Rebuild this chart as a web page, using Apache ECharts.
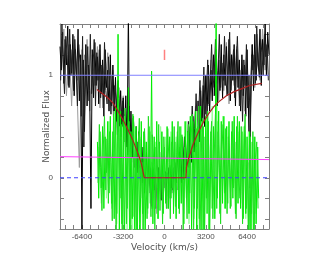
<!DOCTYPE html>
<html><head><meta charset="utf-8">
<script src="https://cdn.jsdelivr.net/npm/echarts@6/dist/echarts.min.js"></script>
<style>html,body{margin:0;padding:0;background:#fff}#c{width:327px;height:273px}</style>
</head><body><div id="c"></div>
<script>
// Axis ranges and ticks
const xRange = [-8100, 8100];
const yRange = [-0.5, 1.5];
const xTickLabels = [-6400, -3200, 0, 3200, 6400];
const xMinorTicks = [-7680,-7040,-6400,-5760,-5120,-4480,-3840,-3200,-2560,-1920,-1280,-640,0,640,1280,1920,2560,3200,3840,4480,5120,5760,6400,7040,7680];
const yTickLabels = [0, 1];
const yMinorTicks = [-0.4,-0.2,0,0.2,0.4,0.6,0.8,1,1.2,1.4];

// Black spectrum (two interleaved samplings): start velocity, step, flux values
const blackStart = -8100, blackStep = 100;
const blackFlux = [
 1.28,1.05,1.42,0.92,1.35,1.10,1.48,0.88,1.30,1.02,
 1.40,0.80,1.25,0.95,1.45,0.75,1.20,-0.50,1.15,0.45,
 1.30,0.70,1.10,0.85,-0.30,1.25,0.78,1.32,0.90,1.18,
 0.72,1.30,0.82,1.15,0.60,1.25,0.88,1.05,0.65,1.20,
 0.70,1.10,0.62,0.98,0.55,0.95,0.45,0.85,0.50,0.78,
 0.35,0.80,0.30,1.60,0.25,0.65,0.20,0.55,0.10,0.50,
 0.05,0.45,0.10,0.38,-0.05,0.30,0.00,0.25,-0.10,0.20,
 -0.15,0.15,-0.20,0.10,-0.25,0.12,-0.10,0.05,-0.20,0.08,
 -0.15,0.10,-0.22,0.05,-0.18,0.12,-0.10,0.08,-0.15,0.15,
 -0.05,0.20,-0.10,0.25,0.00,0.30,-0.02,0.35,0.05,0.45,
 0.10,0.50,0.15,0.60,0.25,0.55,0.30,0.75,0.35,0.85,
 0.45,0.90,0.50,1.00,0.60,1.10,0.65,1.05,0.75,1.20,
 0.80,1.25,0.70,1.15,0.85,1.30,0.78,1.20,0.90,1.28,
 0.82,1.35,0.75,1.20,0.95,1.30,0.70,1.25,0.88,1.15,
 0.65,1.20,0.80,1.10,0.60,1.25,0.75,-0.10,0.95,1.30,
 0.85,1.40,0.95,1.25,1.05,1.45,0.90,1.35,1.10,1.50,
 1.00,1.42,1.20
];
const black2Start = -8050, black2Step = 100;
const black2Flux = [
 0.95,1.50,1.10,0.82,1.38,1.20,0.90,1.45,1.00,1.25,
 0.85,1.35,1.05,0.70,1.30,1.12,0.60,1.38,0.30,1.20,
 0.90,1.28,0.75,1.40,0.82,1.05,1.35,0.70,1.22,0.95,
 1.25,0.78,1.10,0.68,1.32,0.85,0.72,1.18,0.92,0.62,
 1.00,0.58,0.90,0.75,0.42,0.88,0.60,0.40,0.75,0.38,
 0.62,0.45,0.22,0.70,0.40,0.15,0.58,0.30,0.45,0.12,
 0.35,0.18,-0.08,0.30,0.12,-0.15,0.22,0.05,-0.12,0.10,
 -0.05,-0.28,0.08,-0.12,0.02,-0.30,0.10,-0.08,-0.22,0.05,
 -0.10,0.06,-0.25,-0.02,0.10,-0.20,0.02,-0.12,0.10,-0.06,
 0.15,-0.12,0.08,0.22,-0.05,0.18,0.40,0.12,0.28,0.55,
 0.30,0.42,0.70,0.38,0.48,0.82,0.45,0.62,0.95,0.55,
 0.72,1.08,0.62,0.85,1.15,0.72,0.98,1.30,0.88,1.00,
 1.35,0.92,1.05,1.40,0.88,1.12,0.95,1.38,1.00,0.80,
 1.10,1.42,0.85,1.05,1.25,0.78,1.12,1.38,0.95,0.70,
 1.05,0.55,1.15,0.90,1.30,0.68,1.00,0.40,1.20,1.05,
 1.20,0.92,1.48,1.10,0.98,1.35,1.22,1.00,1.40,1.18,
 1.30,0.95
];

// Gray spectrum
const grayStart = -8000, grayStep = 200;
const grayFlux = [
 1.15,1.45,0.80,1.30,0.70,1.38,0.95,0.10,1.25,0.60,
 1.35,0.65,1.20,0.90,1.28,0.68,1.10,0.92,1.22,0.75,
 1.05,0.58,0.92,0.45,0.80,0.40,0.70,0.28,0.55,0.15,
 0.35,0.00,0.22,-0.15,0.12,-0.30,0.05,-0.35,0.10,-0.20,
 0.05,-0.30,0.10,-0.15,0.18,-0.05,0.30,0.05,0.40,0.15,
 0.55,0.25,0.70,0.40,0.88,0.55,1.00,0.70,1.15,0.80,
 1.25,0.75,1.18,0.85,1.32,0.72,1.20,0.90,1.28,0.70,
 1.15,0.65,1.05,0.40,1.30,0.88,1.40,0.95,1.45,1.05,
 1.35
];

// Green spectrum (two interleaved samplings)
const greenStart = -5200, greenStep = 100;
const greenFlux = [
 0.35,-0.20,0.45,-0.10,0.50,-0.30,0.40,0.05,0.55,-0.15,
 0.60,-0.25,0.45,-0.40,0.70,-0.35,1.40,-0.55,0.65,-0.45,
 0.55,-0.60,0.50,-0.30,0.88,-0.65,0.45,-0.40,0.60,-0.70,
 0.50,-0.55,0.40,-0.75,0.55,-0.35,0.45,-0.60,0.35,-0.30,
 0.50,-0.25,1.04,-0.45,0.40,-0.30,0.55,-0.40,0.35,-0.20,
 0.45,-0.35,0.30,-0.25,0.50,-0.30,0.40,-0.20,0.55,-0.35,
 0.35,-0.40,0.45,-0.30,0.50,-0.25,0.40,-0.45,0.55,-0.20,
 0.45,-0.35,0.60,-0.50,0.55,-0.30,0.65,-0.60,0.50,-0.40,
 0.70,-0.55,0.50,-0.65,0.60,-0.35,0.55,-0.60,0.45,-0.30,
 0.50,-0.40,1.60,-0.20,0.65,-0.35,0.55,-0.25,0.60,-0.30,
 0.50,-0.25,0.55,-0.30,0.45,-0.20,0.60,-0.35,0.50,-0.25,
 0.55,-0.30,0.45,-0.40,0.50,-0.35,0.40,-0.60,0.45,-0.55,
 0.35,-0.70,0.40,-0.45,0.30,-0.20
];
const green2Start = -5150, green2Step = 100;
const green2Flux = [
 -0.05,0.52,0.10,-0.32,0.28,0.60,-0.12,0.38,-0.25,0.45,
 0.15,-0.42,0.62,0.20,-0.58,0.35,0.78,-0.20,0.52,-0.75,
 0.30,0.68,-0.45,0.10,0.55,-0.80,0.25,0.62,-0.38,0.40,
 -0.62,0.30,0.58,-0.20,0.15,-0.55,0.48,0.05,-0.40,0.60,
 0.12,-0.38,0.42,0.20,-0.50,0.30,-0.10,0.52,-0.32,0.25,
 -0.45,0.40,0.05,-0.30,0.48,0.15,-0.40,0.35,-0.10,0.50,
 -0.28,0.25,0.55,-0.35,0.10,0.42,-0.52,0.30,0.05,-0.40,
 0.52,-0.15,0.35,0.62,-0.58,0.20,0.48,-0.30,0.70,-0.65,
 0.25,0.58,-0.72,0.40,-0.20,0.65,-0.50,0.30,0.55,-0.40,
 0.20,0.62,-0.30,0.45,0.10,-0.45,0.52,0.25,-0.15,0.48,
 -0.35,0.40,0.15,-0.28,0.55,-0.10,0.35,-0.40,0.60,0.05,
 -0.20,0.50,-0.45,0.30,0.62,-0.30,0.15,-0.75,0.40,-0.35,
 0.45,-0.55,0.20,0.35,-0.30
];

// Light green spectrum
const lgreenStart = -5100, lgreenStep = 200;
const lgreenFlux = [
 0.30,-0.25,0.40,-0.20,0.55,-0.30,0.65,-0.45,0.50,-0.50,
 0.60,-0.55,0.45,-0.65,0.50,-0.40,0.40,-0.50,0.35,-0.35,
 0.45,-0.30,0.35,-0.40,0.50,-0.25,0.40,-0.30,0.45,-0.20,
 0.40,-0.30,0.50,-0.35,0.55,-0.45,0.60,-0.40,0.65,-0.55,
 0.55,-0.50,0.60,-0.30,0.70,-0.35,0.55,-0.25,0.60,-0.30,
 0.50,-0.20,0.55,-0.35,0.45,-0.25,0.50,-0.40,0.45,-0.50,
 0.40,-0.35,0.30
];

// Model curve
const modelVel  = [-5240,-4800,-4400,-4000,-3600,-3200,-2800,-2400,-2000,-1800,-1600,-1570,1660,1700,1900,2200,2600,3000,3400,3800,4200,4800,5400,6000,6600,7540];
const modelFlux = [0.86,0.82,0.78,0.73,0.65,0.56,0.46,0.35,0.22,0.14,0.02,0,0,0.10,0.20,0.32,0.44,0.54,0.62,0.69,0.74,0.80,0.84,0.87,0.90,0.92];

// Reference lines
const continuumLevel = 1;
const zeroLevel = 0;
const magentaEnds = [0.206, 0.177];
const markerVel = 0, markerFlux = [1.15, 1.25];

function pairs(start, step, vals){ return vals.map((v,i)=>[start+i*step, v]); }

const chart = echarts.init(document.getElementById('c'), null, {renderer:'canvas'});
const axisCol = '#808080', txtCol = '#505050';
const lblFont = {fontFamily:'Liberation Sans', fontSize:8, color:txtCol, formatter:v=>String(v)};
function xAx(pos, show){
  return {type:'value', position:pos, min:xRange[0], max:xRange[1],
    axisLine:{show:true, onZero:false, lineStyle:{color:axisCol}},
    axisTick:{show:true, inside:true, length:4, customValues:xMinorTicks, lineStyle:{color:axisCol}},
    axisLabel:show?Object.assign({show:true, margin:4, customValues:xTickLabels}, lblFont):{show:false},
    splitLine:{show:false},
    name: show?'Velocity (km/s)':'', nameLocation:'middle', nameGap:14, nameMoveOverlap:false,
    nameTextStyle:{fontFamily:'DejaVu Sans', fontSize:9, color:txtCol}};
}
function yAx(pos, show){
  return {type:'value', position:pos, min:yRange[0], max:yRange[1],
    axisLine:{show:true, onZero:false, lineStyle:{color:axisCol}},
    axisTick:{show:true, inside:true, length:4, customValues:yMinorTicks, lineStyle:{color:axisCol}},
    axisLabel:show?Object.assign({show:true, margin:7, customValues:yTickLabels}, lblFont):{show:false},
    splitLine:{show:false},
    name: show?'Normalized Flux':'', nameLocation:'middle', nameGap:9, nameMoveOverlap:false,
    nameTextStyle:{fontFamily:'DejaVu Sans', fontSize:9, color:txtCol}};
}
function ln(data, color, width, extra){
  return Object.assign({type:'line', data:data, symbol:'none', silent:true, animation:false,
    lineStyle:{color:color, width:width}, clip:true}, extra||{});
}
chart.setOption({
  animation:false,
  grid:{left:60, right:58, top:24, bottom:44},
  xAxis:[xAx('bottom', true), xAx('top', false)],
  yAxis:[yAx('left', true), yAx('right', false)],
  series:[
    ln(pairs(grayStart, grayStep, grayFlux), '#9a9a9a', 1),
    ln(pairs(blackStart, blackStep, blackFlux), '#000000', 1),
    ln(pairs(black2Start, black2Step, black2Flux), '#202020', 1),
    ln(pairs(lgreenStart, lgreenStep, lgreenFlux), '#99ff99', 1),
    ln(pairs(greenStart, greenStep, greenFlux), '#00ee00', 1),
    ln(pairs(green2Start, green2Step, green2Flux), '#22dd22', 1),
    ln([[xRange[0], continuumLevel],[xRange[1], continuumLevel]], '#8080ff', 1),
    ln([[xRange[0], zeroLevel],[xRange[1], zeroLevel]], '#4040ff', 1, {lineStyle:{color:'#4040ff', width:1, type:[4,3]}}),
    ln([[xRange[0], magentaEnds[0]],[xRange[1], magentaEnds[1]]], '#ff40ff', 1),
    ln(modelVel.map((v,i)=>[v, modelFlux[i]]), '#b02020', 1.2),
    ln([[markerVel, markerFlux[0]],[markerVel, markerFlux[1]]], '#ff8080', 1.5)
  ]
});
</script></body></html>
